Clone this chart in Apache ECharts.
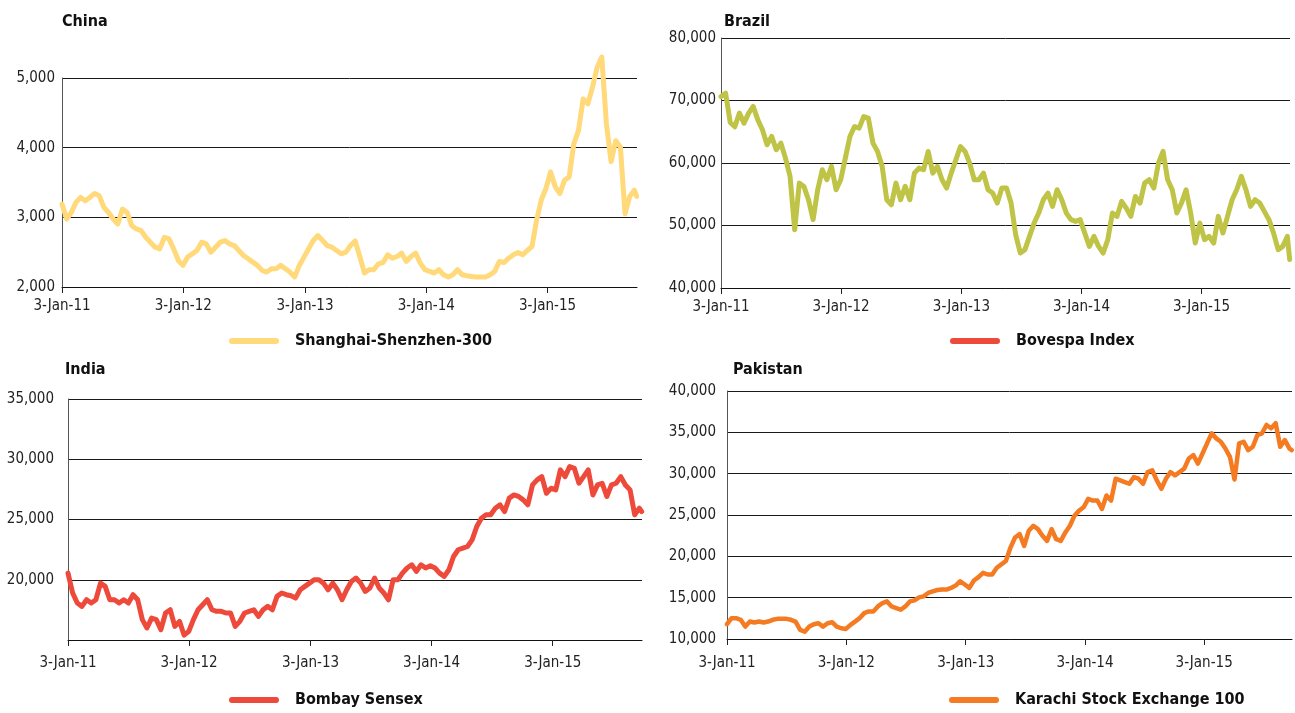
<!DOCTYPE html>
<html><head><meta charset="utf-8">
<script src="https://cdn.jsdelivr.net/npm/echarts@6/dist/echarts.min.js"></script>
<style>html,body{margin:0;padding:0;background:#fff}#c{width:1295px;height:713px}</style>
</head><body><div id="c"></div>
<script>
// x positions: days since 3-Jan-2011, sampled every 14 days, last point at day 1729
const STEP_DAYS = 14;
const LAST_DAY = 1729;
const AXIS_MAX_DAY = 1730;
const yearTickDays = [0, 365, 731, 1096, 1461];
const yearTickLabels = ['3-Jan-11', '3-Jan-12', '3-Jan-13', '3-Jan-14', '3-Jan-15'];

const panelTitles = ['China', 'Brazil', 'India', 'Pakistan'];
const seriesNames = ['Shanghai-Shenzhen-300', 'Bovespa Index', 'Bombay Sensex', 'Karachi Stock Exchange 100'];

const chinaValues = [
3190,2976,3070,3214,3286,3238,3286,3343,3310,3143,
3070,2976,2905,3119,3070,2880,2833,2810,2714,2643,
2571,2548,2714,2690,2548,2381,2310,2430,2476,2524,
2643,2619,2500,2571,2643,2667,2619,2595,2524,2452,
2405,2357,2310,2238,2214,2262,2262,2310,2262,2214,
2143,2310,2429,2548,2667,2738,2667,2595,2571,2524,
2476,2500,2595,2660,2438,2200,2248,2248,2333,2352,
2462,2414,2438,2486,2367,2438,2486,2343,2248,2224,
2200,2248,2176,2143,2176,2248,2176,2162,2152,2143,
2143,2143,2176,2224,2367,2352,2414,2462,2495,2462,
2524,2581,2962,3248,3414,3652,3438,3343,3533,3581,
4057,4248,4700,4629,4867,5150,5300,4343,3800,4100,
4010,3050,3300,3390,3300];

const brazilValues = [
70640,71170,66500,65800,67980,66380,67980,69040,66900,65310,
62910,64250,62120,63180,60780,57850,49330,56780,56250,54120,
50930,55720,58920,57320,59450,55720,57320,60780,64250,65840,
65580,67440,67170,63180,61850,59450,54120,53320,56780,54120,
56250,54120,58380,59190,58920,61850,58380,59450,57320,55990,
58380,60510,62640,61850,59980,57320,57320,58380,55720,55190,
53590,55990,55990,53590,48500,45600,46130,48260,50390,51990,
54120,55190,53060,55720,54120,51990,50930,50660,50930,48790,
46660,48260,46660,45600,47730,51990,51460,53860,52790,51460,
54650,53590,56780,57320,55990,59980,61850,57320,55720,51990,
53590,55720,51990,47200,50390,47730,48260,47200,51460,48790,
51460,54120,55720,57850,55720,53060,54120,53590,52260,50930,
48790,46130,46660,48260,44540];

const indiaValues = [
20550,18900,18070,17790,18340,18070,18340,19720,19450,18340,
18340,18070,18340,18070,18760,18340,16690,16000,16820,16690,
15860,17240,17510,16130,16550,15400,15720,16690,17510,17930,
18340,17510,17380,17380,17240,17240,16130,16550,17240,17380,
17510,16960,17510,17790,17510,18620,18900,18760,18670,18480,
19170,19450,19720,20000,20000,19720,19170,19720,19170,18340,
19170,19860,20140,19720,19030,19310,20140,19310,18900,18340,
20000,20000,20550,20970,21240,20690,21240,20970,21160,20970,
20550,20280,20830,21930,22490,22620,22760,23310,24420,25110,
25390,25390,25940,26220,25660,26770,27040,26910,26630,26220,
27870,28290,28560,27180,27600,27460,29120,28560,29390,29250,
28010,28560,29120,27040,27870,28010,26910,27870,28010,28560,
27870,27460,25390,25940,25660];

const pakistanValues = [
11790,12520,12520,12320,11500,12110,11990,12110,11990,12110,
12320,12440,12440,12440,12320,12110,11100,10890,11500,11790,
11910,11500,11910,12030,11500,11300,11220,11710,12110,12520,
13130,13330,13330,13940,14350,14550,13940,13740,13540,13940,
14550,14670,15040,15160,15570,15770,15930,15980,15980,16180,
16460,16990,16590,16180,17070,17480,18010,17800,17800,18620,
19020,19430,21060,22280,22690,21260,23100,23700,23290,22480,
21870,23290,22070,21870,22890,23700,24920,25530,25940,26950,
26750,26750,25730,27360,26750,29390,29190,28980,28780,29590,
29390,28780,30200,30410,29190,28170,29390,30200,29800,30200,
30610,31830,32240,31220,32440,33660,34880,34270,33860,33050,
32030,29300,33660,33860,32850,33250,34670,34880,35890,35490,
36100,33250,34060,33050,32850];

const chinaYTicks = [2000, 3000, 4000, 5000];
const brazilYTicks = [40000, 50000, 60000, 70000, 80000];
const indiaYTicks = [15000, 20000, 25000, 30000, 35000];
const pakistanYTicks = [10000, 15000, 20000, 25000, 30000, 35000, 40000];

const allValues = [chinaValues, brazilValues, indiaValues, pakistanValues];
const allYTicks = [chinaYTicks, brazilYTicks, indiaYTicks, pakistanYTicks];

const lineColors = ['#FFD97A', '#BFC446', '#EE4A3B', '#F47B22'];
const legendColors = ['#FFD97A', '#EE4A3B', '#EE4A3B', '#F47B22'];
const lineWidths = [5, 5, 5, 4.5];

const FONT = "'DejaVu Sans Condensed', 'Liberation Sans Narrow', sans-serif";
const AXIS_FS = 15;
const HEAD_FS = 16;

const grids = [
  {left: 62, top: 78, width: 575, height: 209},
  {left: 721, top: 38, width: 569, height: 250},
  {left: 68, top: 399, width: 574, height: 241},
  {left: 727, top: 391, width: 565, height: 248}
];
const yLabelMargins = [7, 5, 14, 11];
const xLabelMargins = [12, 12, 16, 17];
const titlePos = [{left: 62, top: 14}, {left: 724, top: 14}, {left: 65, top: 362}, {left: 733, top: 362}];
const legendPos = [{left: 229, top: 333}, {left: 950, top: 333}, {left: 229, top: 692}, {left: 949, top: 692}];

function toXY(vals) {
  return vals.map((v, i) => [i < vals.length - 1 ? i * STEP_DAYS : LAST_DAY, v]);
}
function addCommas(v) { return String(v).replace(/\B(?=(\d{3})+(?!\d))/g, ','); }

const option = {
  animation: false,
  backgroundColor: '#ffffff',
  title: panelTitles.map((t, i) => ({
    text: t, left: titlePos[i].left, top: titlePos[i].top, padding: 0,
    textStyle: {fontFamily: FONT, fontWeight: 'bold', fontSize: HEAD_FS, color: '#111'}
  })),
  legend: seriesNames.map((n, i) => ({
    data: [{name: n, itemStyle: {color: legendColors[i]}}],
    left: legendPos[i].left, top: legendPos[i].top, padding: 0,
    icon: 'path://M3,0 L47,0 A3,3 0 0 1 47,6 L3,6 A3,3 0 0 1 3,0 Z',
    itemWidth: 50, itemHeight: 6,
    selectedMode: false,
    textStyle: {fontFamily: FONT, fontWeight: 'bold', fontSize: HEAD_FS, color: '#111', lineHeight: 16, padding: [0, 0, 0, 11]}
  })),
  grid: grids.map(g => Object.assign({containLabel: false}, g)),
  xAxis: grids.map((g, i) => ({
    type: 'value', gridIndex: i, min: 0, max: AXIS_MAX_DAY,
    axisLine: {show: true, lineStyle: {color: '#111', width: 1}},
    axisTick: {show: true, customValues: yearTickDays, length: 6, lineStyle: {color: '#222'}},
    axisLabel: {
      customValues: yearTickDays, margin: xLabelMargins[i],
      fontFamily: FONT, fontSize: AXIS_FS, color: '#222',
      formatter: v => { const k = yearTickDays.indexOf(Math.round(v)); return k >= 0 ? yearTickLabels[k] : ''; }
    },
    splitLine: {show: false}
  })),
  yAxis: allYTicks.map((t, i) => ({
    type: 'value', gridIndex: i, min: t[0], max: t[t.length - 1], interval: t[1] - t[0],
    axisLine: {show: true, lineStyle: {color: '#555', width: 1}},
    axisTick: {show: false},
    axisLabel: {
      margin: yLabelMargins[i], fontFamily: FONT, fontSize: AXIS_FS, color: '#222',
      showMinLabel: i !== 2,
      formatter: v => addCommas(v)
    },
    splitLine: {show: true, lineStyle: {color: '#1a1a1a', width: 1}}
  })),
  series: seriesNames.map((n, i) => ({
    name: n, type: 'line', xAxisIndex: i, yAxisIndex: i,
    data: toXY(allValues[i]),
    showSymbol: false, symbol: 'none', clip: false,
    lineStyle: {color: lineColors[i], width: lineWidths[i], cap: 'round', join: 'round'},
    itemStyle: {color: lineColors[i]},
    z: 3
  }))
};

const chart = echarts.init(document.getElementById('c'), null, {renderer: 'canvas'});
chart.setOption(option);
</script>
</body></html>
